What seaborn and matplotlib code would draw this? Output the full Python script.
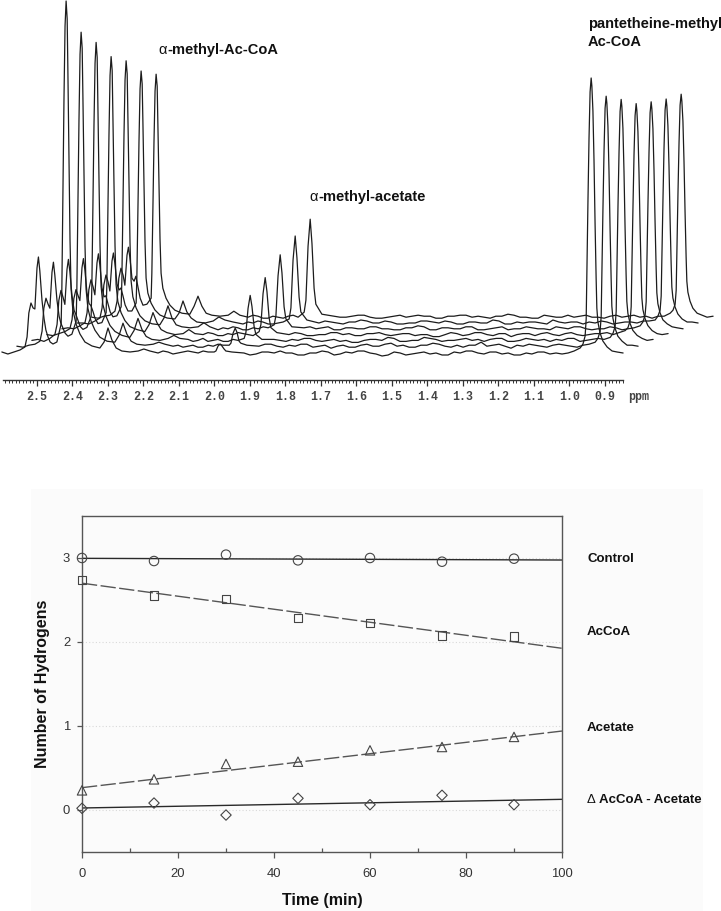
import matplotlib
matplotlib.use('Agg')
import matplotlib.pyplot as plt
from matplotlib.patches import Rectangle
from matplotlib.ticker import FixedLocator
import seaborn as sns

# ppm positions of the front spectrum
ppm = [2.599, 2.582, 2.565, 2.548, 2.534, 2.528, 2.523, 2.517, 2.511, 2.506, 2.5, 2.496, 2.492, 2.486, 2.48, 2.475, 2.469, 2.463, 2.455, 2.444,
       2.432, 2.43, 2.427, 2.424, 2.421, 2.418, 2.415, 2.413, 2.41, 2.407, 2.404, 2.399, 2.39, 2.379,
       2.365, 2.345, 2.323, 2.311, 2.3, 2.289, 2.277, 2.261, 2.238, 2.215, 2.199, 2.182, 2.159, 2.145, 2.131, 2.117, 2.103, 2.089, 2.075, 2.06, 2.046, 2.032, 2.018,
       2.001, 1.996, 1.99, 1.984, 1.979, 1.973, 1.968, 1.951,
       1.917, 1.9, 1.883, 1.866, 1.849, 1.832, 1.815, 1.799, 1.782, 1.765, 1.748, 1.731, 1.714, 1.697, 1.68, 1.663, 1.646, 1.63, 1.613, 1.596, 1.579, 1.562, 1.545, 1.528,
       1.511, 1.494, 1.477, 1.461, 1.444, 1.427, 1.41, 1.393, 1.376, 1.359, 1.342, 1.325, 1.308, 1.291, 1.275, 1.258, 1.241, 1.224, 1.207, 1.19, 1.173, 1.156,
       1.139, 1.122, 1.106, 1.089, 1.072, 1.055, 1.038, 1.021, 1.004,
       0.987, 0.97,
       0.962, 0.956, 0.953, 0.951, 0.948, 0.945, 0.942, 0.939, 0.937, 0.934, 0.931, 0.928, 0.925, 0.923, 0.92, 0.914, 0.906, 0.894, 0.88,
       0.866, 0.849]

# intensity of each spectrum, front (t0) to back (t6)
t0 = [0, -2, 0, 2, 5, 15, 39, 49, 44, 43, 84, 95, 81, 52, 33, 22, 15, 10, 8, 10,
      28, 63, 158, 253, 326, 351, 333, 281, 193, 112, 63, 42, 28, 18,
      10, 6, 4, 10, 24, 12, 4, 1, 0, 1, 3, 1, -1, 1, 0, -2, -1, 0, 1, 0, -1, 1, 0,
      0, 1, 6, 8, 6, 3, 1, 0,
      -1, -3, -2, 0, 0, -1, 1, -1, -1, -3, -3, -1, -1, 1, 0, -3, -2, 0, -1, 1, 1, -1, -2, -4,
      -3, 0, -1, -3, -2, -1, 0, -2, -1, -3, -3, 0, -1, 1, 1, -1, -2, 0, 0, -2, -1,
      -3, -3, -1, -2, 0, 0, -2, -1, -2, -1,
      1, 4,
      8, 16, 33, 82, 151, 214, 260, 274, 266, 241, 192, 129, 74, 44, 30, 19, 11, 5, 1,
      0, -1]
t1 = [0, -1, 1, 2, 5, 15, 38, 48, 42, 38, 74, 84, 71, 46, 30, 23, 18, 13, 10, 12,
      25, 57, 141, 226, 292, 314, 298, 251, 173, 100, 57, 38, 25, 16,
      9, 5, 4, 11, 23, 12, 5, 2, 1, 2, 4, 2, 0, 1, -1, 0, 1, -1, -1, 1, 0, 2, 1,
      1, 3, 13, 18, 14, 5, 3, 1,
      0, 2, 2, 0, -1, 1, 0, 2, 2, -1, 0, 1, -2, 0, 1, -1, -1, 1, 2, 0, 0, 2, 3, 0,
      1, -1, -1, 1, 1, 3, 2, 0, -1, 1, -1, 1, 1, 4, 0, 1, 2, 0, -2, 1, 0,
      2, 1, 0, -1, 1, 2, 1, 0, -1, 1,
      2, 4,
      8, 15, 30, 75, 138, 195, 238, 250, 243, 220, 175, 118, 68, 40, 28, 18, 10, 5, 1,
      1, 0]
t2 = [0, 1, -1, 2, 6, 16, 40, 50, 43, 36, 71, 81, 69, 45, 30, 26, 20, 14, 11, 13,
      24, 54, 134, 215, 277, 298, 283, 238, 164, 95, 54, 36, 24, 15,
      9, 5, 3, 10, 22, 11, 4, 1, 0, 2, 5, 2, 1, -1, 0, 2, -1, 0, 1, -1, -1, 1, 0,
      2, 8, 32, 45, 34, 14, 6, 1,
      1, 0, -1, 1, 0, 2, 2, 0, -1, 0, 1, -1, 0, -2, -2, 0, 1, 1, 0, 3, 2, -1, -1, 0, 0, 3,
      2, 1, -1, 0, 0, 1, 2, 0, 1, -1, 1, 2, 2, -1, -1, 0, 2, 1, 0, 1, -1,
      1, 0, 2, 2, -1, 0, 1, 2,
      1, 3,
      7, 14, 29, 72, 133, 188, 229, 241, 234, 212, 169, 113, 65, 39, 27, 17, 10, 5, 2,
      0, 1]
t3 = [0, -1, 1, 3, 6, 15, 36, 45, 39, 34, 67, 76, 65, 42, 31, 29, 23, 16, 11, 12,
      22, 50, 125, 200, 259, 278, 264, 222, 153, 89, 50, 33, 22, 14,
      8, 5, 3, 10, 22, 12, 5, 2, 0, 1, 5, 1, 0, 2, 1, -1, -1, 1, 0, 2, 1, 0, -1,
      3, 10, 41, 57, 43, 17, 7, 2,
      0, 2, 1, -1, -1, 0, 0, 2, 2, 0, 1, -1, -1, 1, 1, 2, 0, -1, 0, 1, 1, -1, 0, 0,
      -2, -2, 0, 2, 1, -1, 0, 2, 2, 0, -1, 1, 1, -2, 0, 1, 1, -1, 1, 2, 0,
      -1, 1, 2, 0, -1, 0, 1, 1, 2, 0,
      2, 4,
      7, 14, 28, 69, 127, 180, 219, 231, 224, 203, 162, 109, 62, 37, 25, 16, 9, 4, 1,
      0, 1]
t4 = [0, 1, 0, 3, 6, 16, 39, 49, 42, 34, 66, 75, 64, 41, 32, 33, 25, 17, 12, 13,
      22, 48, 121, 193, 249, 268, 255, 214, 147, 86, 48, 32, 21, 13,
      8, 5, 4, 11, 23, 11, 4, 2, 1, 2, 6, 2, -1, 1, 0, 2, 1, -1, -1, 1, 0, 2, 1,
      4, 13, 53, 74, 56, 22, 10, 2,
      1, 2, 0, 1, 2, -1, -1, 1, 1, 0, 0, 2, 2, 0, 0, -1, -1, 1, 1, 3, 2, -1, -1, 1,
      1, 0, 0, 2, 2, -1, -1, 0, 1, 2, -1, 0, 0, 2, 1, 0, 0, -1, 2, 1, 0,
      2, 2, 0, -1, 0, 0, 2, 1, -1, 0,
      1, 3,
      7, 14, 27, 68, 125, 177, 216, 227, 220, 200, 159, 107, 61, 36, 25, 16, 9, 5, 2,
      1, 0]
t5 = [0, 0, -1, 2, 5, 15, 38, 48, 41, 32, 62, 70, 60, 39, 33, 35, 27, 18, 12, 12,
      20, 45, 113, 181, 234, 252, 239, 202, 139, 81, 45, 30, 20, 13,
      8, 5, 4, 10, 22, 11, 5, 1, 0, 2, 6, 3, 1, 0, -1, 1, 0, 2, 1, -1, -1, 0, 1,
      4, 15, 63, 87, 65, 26, 11, 3,
      0, 2, 1, 0, -1, 1, 1, 3, 2, 0, 0, 2, 1, -1, -1, 0, 0, 2, 2, 1, 0, 2, 1, -1,
      -1, 1, 1, 0, 0, 3, 2, -1, -1, 1, 0, 1, 1, 0, -1, 3, 1, 0, 1, 1, -1,
      1, 0, 2, 1, -1, 0, 1, 1, 0, 2,
      2, 3,
      7, 13, 27, 67, 123, 175, 213, 224, 217, 197, 157, 105, 60, 36, 25, 16, 9, 4, 1,
      1, 0]
t6 = [0, -1, 1, 2, 6, 16, 39, 49, 42, 32, 62, 70, 60, 39, 36, 41, 30, 19, 12, 13,
      19, 44, 109, 175, 226, 243, 231, 194, 134, 78, 44, 29, 19, 12,
      7, 4, 3, 11, 21, 11, 4, 2, 1, 2, 6, 2, 0, 2, 1, -1, -1, 1, 0, -1, 1, 2, 0,
      5, 17, 71, 98, 74, 29, 13, 3,
      1, 0, 0, 1, 2, 2, 0, -1, -1, 0, 1, 2, 0, 1, 2, 1, 1, -1, -1, 1, 1, 2, 2, 0, 1,
      0, -1, 1, 1, 3, 2, 0, 0, -1, -1, 2, 1, 0, 0, 2, 0, 1, 2, 0, 0,
      -1, 1, 2, 0, 1, 2, 0, 1, -1, 1,
      1, 4,
      7, 13, 27, 67, 123, 174, 212, 223, 216, 196, 156, 105, 60, 36, 25, 16, 9, 4, 2,
      0, 1]
spectra = [t0, t1, t2, t3, t4, t5, t6]

# time course
time_min = [0, 15, 30, 45, 60, 75, 90]
control = [3.0, 2.964, 3.04, 2.972, 3.0, 2.956, 2.992]
accoa = [2.742, 2.555, 2.512, 2.282, 2.226, 2.079, 2.067]
acetate = [0.234, 0.365, 0.548, 0.575, 0.71, 0.75, 0.87]
delta = [0.02, 0.083, -0.06, 0.139, 0.063, 0.175, 0.063]

fit_time = [0, 100]
control_fit = [2.996, 2.976]
accoa_fit = [2.70, 1.925]
acetate_fit = [0.266, 0.94]
delta_fit = [0.024, 0.127]

W, H = 721, 911
sns.set_theme(style='white')
plt.rcParams['font.family'] = ['Liberation Sans', 'DejaVu Sans']

fig = plt.figure(figsize=(W / 100, H / 100), dpi=100, facecolor='white')


def box(left, top, right, bottom):
    return [left / W, 1 - bottom / H, (right - left) / W, (bottom - top) / H]


def label(x, y, s, **kw):
    kw.setdefault('fontweight', 'bold')
    kw.setdefault('fontsize', 10.5)
    fig.text(x / W, 1 - y / H, s, va='center', ha=kw.pop('ha', 'left'), color=kw.pop('color', '#111111'), **kw)


""" stacked spectra """
ax = fig.add_axes(box(0, 0, W, 380), facecolor='none')
step_ppm = 15 / 355
step_up = 5.8
for k, trace in enumerate(spectra):
    sns.lineplot(x=[p - k * step_ppm for p in ppm], y=[v + 28 + k * step_up for v in trace],
                 ax=ax, color='#1c1c1c', lw=0.9, sort=False, estimator=None, zorder=7 - k, clip_on=False)
ax.set_xlim(2.5 + 37 / 355, 2.5 - (W - 37) / 355)
ax.set_ylim(0, 380)
ax.set_xlabel('')
ax.set_ylabel('')
ax.set_yticks([])
for s in ['top', 'left', 'right']:
    ax.spines[s].set_visible(False)
ax.spines['bottom'].set_color('#333333')
ax.spines['bottom'].set_linewidth(1.0)
ax.spines['bottom'].set_bounds(0.85, 2.595)
major = [2.5, 2.4, 2.3, 2.2, 2.1, 2.0, 1.9, 1.8, 1.7, 1.6, 1.5, 1.4, 1.3, 1.2, 1.1, 1.0, 0.9]
ax.set_xticks(major)
ax.set_xticklabels(['%.1f' % m for m in major], family='Liberation Mono', fontweight='bold',
                   fontsize=8.4, color='#444444')
ax.xaxis.set_minor_locator(FixedLocator([0.85 + i * 0.01 for i in range(175)]))
ax.tick_params(axis='x', which='major', bottom=True, length=4.5, width=0.9, color='#333333', pad=3.5)
ax.tick_params(axis='x', which='minor', bottom=True, length=1.8, width=0.7, color='#333333')

label(628, 397, 'ppm', family='Liberation Mono', fontsize=8.4, color='#444444')
label(158, 50, '\u03b1', fontweight='normal')
label(167, 50, '-methyl-Ac-CoA')
label(309, 197, '\u03b1', fontweight='normal')
label(318, 197, '-methyl-acetate')
label(588, 24, 'pantetheine-methyl')
label(588, 42, 'Ac-CoA')

""" time course panel """
fig.add_artist(Rectangle((31 / W, 0), 672 / W, 1 - 489 / H, transform=fig.transFigure,
                         facecolor='#fbfbfb', edgecolor='none', zorder=-1))
ax2 = fig.add_axes(box(82, 516, 562, 852), facecolor='#fbfbfb')
for v in [0, 1, 2, 3]:
    ax2.axhline(v, color='#d9d9d9', lw=0.8, ls=(0, (1, 2)), zorder=0)

fits = [(control_fit, '-', '#2a2a2a'), (accoa_fit, (0, (11, 2.5)), '#555555'),
        (acetate_fit, (0, (11, 2.5)), '#555555'), (delta_fit, '-', '#2a2a2a')]
for values, style, colour in fits:
    sns.lineplot(x=fit_time, y=values, ax=ax2, color=colour, lw=1.0, linestyle=style, zorder=2)

points = [(control, 'o', 46), (accoa, 's', 36), (acetate, '^', 46), (delta, 'D', 28)]
for values, marker, size in points:
    sns.scatterplot(x=time_min, y=values, ax=ax2, marker=marker, s=size, facecolors='none',
                    edgecolor='#444444', linewidth=0.8, zorder=3, clip_on=False)

ax2.set_xlim(0, 100)
ax2.set_ylim(-0.5, 3.5)
ax2.set_xticks([0, 20, 40, 60, 80, 100])
ax2.set_yticks([0, 1, 2, 3])
ax2.xaxis.set_minor_locator(FixedLocator([10, 30, 50, 70, 90]))
for s in ax2.spines.values():
    s.set_color('#555555')
    s.set_linewidth(1.0)
ax2.tick_params(axis='x', which='major', bottom=True, length=4, width=0.9, color='#555555',
                labelsize=9.4, labelcolor='#333333', pad=7.5)
ax2.tick_params(axis='x', which='minor', bottom=True, direction='in', length=3, width=0.9, color='#555555')
ax2.tick_params(axis='y', which='major', left=True, length=3.5, width=0.9, color='#555555',
                labelsize=9.4, labelcolor='#333333', pad=5)
ax2.set_xlabel('')
ax2.set_ylabel('')

label(322, 900, 'Time (min)', ha='center', fontsize=11.5)
fig.text(43 / W, 1 - 684 / H, 'Number of Hydrogens', rotation=90, va='center', ha='center',
         fontweight='bold', fontsize=11.5, color='#111111')
label(587, 559, 'Control', fontsize=9.5)
label(587, 632, 'AcCoA', fontsize=9.5)
label(587, 728, 'Acetate', fontsize=9.5)
label(587, 800, '\u0394', fontweight='normal', fontsize=9.5)
label(599, 800, 'AcCoA - Acetate', fontsize=9.5)

fig.savefig('out.png', dpi=100)
